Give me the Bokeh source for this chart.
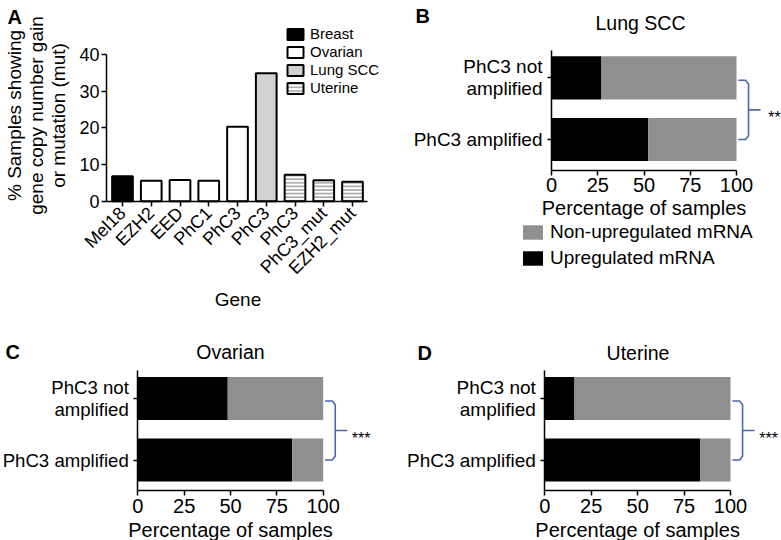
import math
from bokeh.plotting import figure
from bokeh.models import Range1d, FixedTicker, Legend, LegendItem, ColumnDataSource, Label
from bokeh.layouts import column, row
from bokeh.embed import file_html
from bokeh.resources import INLINE
from bokeh.core.properties import value

FONT = "Liberation Sans"

# ---------------- Panel A data ----------------
genes = ["Mel18", "EZH2", "EED", "PhC1", "PhC3", "PhC3", "PhC3", "PhC3_mut", "EZH2_mut"]
pct_gain = [6.8, 5.6, 5.8, 5.6, 20.3, 34.9, 7.2, 5.7, 5.3]
cancer = ["Breast", "Ovarian", "Ovarian", "Ovarian", "Ovarian", "Lung SCC", "Uterine", "Uterine", "Uterine"]
cancer_types = ["Breast", "Ovarian", "Lung SCC", "Uterine"]
a_yticks = [0, 10, 20, 30, 40]
a_ylabel = ["% Samples showing", "gene copy number gain", "or mutation (mut)"]

# ---------------- Panels B-D data ----------------
group_pos = [0, 1]
group_labels = ["PhC3 amplified", "PhC3 not\namplified"]
pct_ticks = [0, 25, 50, 75, 100]
lung_up = [52.3, 27.0]
ovarian_up = [83.3, 48.5]
uterine_up = [83.8, 16.0]
totals = [100, 100]

styles = {
    "Breast": dict(fill_color="black", hatch_pattern=None),
    "Ovarian": dict(fill_color="white", hatch_pattern=None),
    "Lung SCC": dict(fill_color="#d2d2d2", hatch_pattern=None),
    "Uterine": dict(fill_color="white", hatch_pattern="horizontal_line"),
}

BLUE = "#4a68b0"
GREY = "#8f8f8f"


def mapping(ox, oy, w, h, x0, xs, y0, ys):
    """Page pixel -> data mapping for a panel whose frame fills the whole figure."""
    X = lambda px: (px - x0) / xs
    Y = lambda py: (y0 - py) / ys
    return X, Y, Range1d(X(ox), X(ox + w)), Range1d(Y(oy + h), Y(oy))


def make_fig(w, h, xr, yr):
    p = figure(width=w, height=h, x_range=xr, y_range=yr, min_border=0,
               min_border_left=0, min_border_right=0, min_border_top=0, min_border_bottom=0,
               title_location=None, output_backend="svg", toolbar_location=None)
    p.outline_line_color = None
    p.grid.visible = False
    p.background_fill_color = "white"
    return p


def base_axis_style(ax, size):
    ax.axis_line_width = 1.5
    ax.major_tick_line_width = 1.5
    ax.minor_tick_line_color = None
    ax.major_tick_in = 0
    ax.major_tick_out = 5
    ax.major_label_text_font = FONT
    ax.major_label_text_font_size = size
    ax.major_label_text_color = "black"


def label(p, x, y, text, size, bold=False, align="center", angle=0):
    p.add_layout(Label(x=x, y=y, text=text, text_font=FONT, text_font_size=size,
                       text_font_style="bold" if bold else "normal", text_align=align,
                       text_baseline="middle", angle=angle, text_color="black"))


# ================= Panel A =================
AW, AH = 390, 325
X, Y, xr, yr = mapping(0, 0, AW, AH, 122, 28.75, 200.7, 3.667)
pA = make_fig(AW, AH, xr, yr)
x_left_end, x_right_end = X(106), X(367)

rends = {}
for ct in cancer_types:
    idx = [i for i, c in enumerate(cancer) if c == ct]
    src = ColumnDataSource(dict(x=idx, top=[pct_gain[i] for i in idx]))
    st = styles[ct]
    kw = dict(hatch_pattern=st["hatch_pattern"], hatch_color="#8a8a8a", hatch_scale=3.6,
              hatch_weight=1.2) if st["hatch_pattern"] else {}
    rends[ct] = pA.vbar(x="x", top="top", bottom=0, width=0.72, source=src,
                        fill_color=st["fill_color"], line_color="black", line_width=2, **kw)

xa = pA.xaxis[0]
base_axis_style(xa, "18px")
xa.fixed_location = 0
xa.bounds = (x_left_end, x_right_end)
xa.ticker = FixedTicker(ticks=list(range(len(genes))))
xa.major_label_overrides = {i: g for i, g in enumerate(genes)}
xa.major_label_orientation = math.pi / 4
xa.major_label_standoff = 4

ya = pA.yaxis[0]
base_axis_style(ya, "18px")
ya.fixed_location = x_left_end
ya.bounds = (0, 40)
ya.ticker = FixedTicker(ticks=a_yticks)
ya.major_tick_out = 5
ya.major_label_standoff = 2

for txt, px in zip(a_ylabel, [14, 36, 58]):
    label(pA, X(px), Y(115), txt, "19px", angle=math.pi / 2)
label(pA, X(237.5), Y(299), "Gene", "19px")
label(pA, X(7), Y(16.5), "A", "20px", bold=True, align="left")

legA = Legend(items=[LegendItem(label=ct, renderers=[rends[ct]]) for ct in cancer_types],
              location=(285, 229), padding=0, margin=0, spacing=1,
              glyph_width=20, glyph_height=14, label_standoff=5,
              label_text_font=FONT, label_text_font_size="15px", label_text_color="black",
              border_line_color=None, background_fill_alpha=0)
pA.add_layout(legA)


# ================= Panels B-D =================
def stacked_panel(title, letter, up, stars, ox, oy, w, h, x0, xs, y0, ys,
                  title_px, letter_px, xlab_py, tick_size, legend_loc=None):
    X, Y, xr, yr = mapping(ox, oy, w, h, x0, xs, y0, ys)
    p = make_fig(w, h, xr, yr)
    y_bottom, y_top = -0.5, 1.45

    src = ColumnDataSource(dict(y=group_pos, up=up, total=totals))
    r_up = p.hbar(y="y", left=0, right="up", height=0.7, source=src, fill_color="black", line_color=None)
    r_non = p.hbar(y="y", left="up", right="total", height=0.7, source=src, fill_color=GREY, line_color=None)

    xax = p.xaxis[0]
    base_axis_style(xax, "20px")
    xax.fixed_location = y_bottom
    xax.bounds = (0, 100)
    xax.ticker = FixedTicker(ticks=pct_ticks)
    xax.major_label_standoff = 3

    yax = p.yaxis[0]
    base_axis_style(yax, tick_size)
    yax.fixed_location = 0
    yax.bounds = (y_bottom, y_top)
    yax.ticker = FixedTicker(ticks=group_pos)
    yax.major_label_overrides = {g: l for g, l in zip(group_pos, group_labels)}
    yax.major_tick_out = 4
    yax.major_label_standoff = 5
    yax.major_label_text_line_height = 1.05

    # significance bracket (annotation)
    x0b, x1b, x2b = 101.0, 106.5, 113.0
    yt, yb, ym = 0.96, 0.0, 0.48
    cx, cy = 1.6, 0.06
    p.line([x0b, x1b - cx, x1b, x1b, x1b - cx, x0b], [yt, yt, yt - cy, yb + cy, yb, yb],
           line_color=BLUE, line_width=1.6)
    p.line([x1b, x2b], [ym, ym], line_color=BLUE, line_width=1.6)
    p.text(x=[120.5], y=[ym], text=[stars], text_font=value(FONT), text_font_size="16px",
           text_align="center", text_baseline="alphabetic", y_offset=8, text_color="black")

    label(p, X(title_px[0]), Y(title_px[1]), title, "19.5px")
    label(p, X(letter_px[0]), Y(letter_px[1]), letter, "20px", bold=True, align="left")
    label(p, 50, Y(xlab_py), "Percentage of samples", "20px")

    if legend_loc is not None:
        leg = Legend(items=[LegendItem(label="Non-upregulated mRNA", renderers=[r_non]),
                            LegendItem(label="Upregulated mRNA", renderers=[r_up])],
                     location=legend_loc, padding=0, margin=0, spacing=4,
                     glyph_width=25, glyph_height=18, label_standoff=5,
                     label_text_font=FONT, label_text_font_size="19px", label_text_color="black",
                     border_line_color=None, background_fill_alpha=0)
        p.add_layout(leg)
    return p


pB = stacked_panel("Lung SCC", "B", lung_up, "**", 390, 0, 391, 325, 551, 1.85, 139, 61.7,
                   title_px=(640, 22), letter_px=(415, 15.5), xlab_py=207.5, tick_size="19px",
                   legend_loc=(130, 56))
pC = stacked_panel("Ovarian", "C", ovarian_up, "***", 0, 325, 390, 215, 137.3, 1.854, 459.5, 61.5,
                   title_px=(230, 351), letter_px=(5, 351), xlab_py=529, tick_size="18.6px")
pD = stacked_panel("Uterine", "D", uterine_up, "***", 390, 325, 391, 215, 544.3, 1.857, 459.5, 61.5,
                   title_px=(637.5, 352), letter_px=(417, 352), xlab_py=529, tick_size="19px")

layout = column(row(pA, pB), row(pC, pD))
open("out.html", "w").write(file_html(layout, INLINE))
